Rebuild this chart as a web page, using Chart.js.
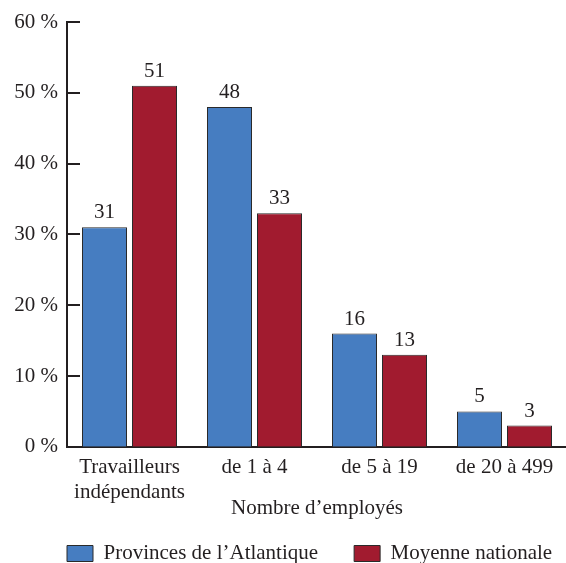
<!DOCTYPE html>
<html>
<head>
<meta charset="utf-8">
<script src="https://cdn.jsdelivr.net/npm/chart.js@4.4.1/dist/chart.umd.min.js"></script>
<style>
  html, body { margin: 0; padding: 0; background: #fff; overflow: hidden; }
  canvas { display: block; }
</style>
</head>
<body>
<canvas id="chart" width="570" height="563"></canvas>
<script>
const categories = [['Travailleurs', 'indépendants'], 'de 1 à 4', 'de 5 à 19', 'de 20 à 499'];
const atlantique = [31, 48, 16, 5];
const nationale = [51, 33, 13, 3];
const yTicks = [0, 10, 20, 30, 40, 50, 60];

const serif = "'Liberation Serif', 'Times New Roman', serif";
const ink = '#231f20';
const fontSize = 21;

// numbers above the bars
const valueLabels = {
  id: 'valueLabels',
  afterDatasetsDraw(chart) {
    const ctx = chart.ctx;
    ctx.save();
    ctx.font = fontSize + 'px ' + serif;
    ctx.fillStyle = ink;
    ctx.textAlign = 'center';
    ctx.textBaseline = 'bottom';
    chart.data.datasets.forEach((ds, i) => {
      chart.getDatasetMeta(i).data.forEach((bar, j) => {
        ctx.fillText(ds.data[j], bar.x, bar.y - 4);
      });
    });
    ctx.restore();
  }
};

// tick marks pointing into the plot
const innerTicks = {
  id: 'innerTicks',
  afterDraw(chart) {
    const ctx = chart.ctx;
    const y = chart.scales.y;
    const left = chart.chartArea.left;
    ctx.save();
    ctx.strokeStyle = ink;
    ctx.lineWidth = 2;
    y.ticks.forEach(t => {
      if (t.value === 0) return;
      const py = Math.round(y.getPixelForValue(t.value));
      ctx.beginPath();
      ctx.moveTo(left - 1, py);
      ctx.lineTo(left + 13, py);
      ctx.stroke();
    });
    ctx.restore();
  }
};

// legend starts under the plot, not at the canvas edge
const legendShift = {
  id: 'legendShift',
  afterLayout(chart) {
    chart.legend.left += 31;
    chart.legend.right += 31;
  }
};

new Chart(document.getElementById('chart'), {
  type: 'bar',
  data: {
    labels: categories,
    datasets: [
      {
        label: 'Provinces de l\u2019Atlantique',
        data: atlantique,
        backgroundColor: '#467dc1',
        borderColor: '#2a2a2a',
        borderWidth: 1
      },
      {
        label: 'Moyenne nationale',
        data: nationale,
        backgroundColor: '#a11b2f',
        borderColor: '#2a2a2a',
        borderWidth: 1
      }
    ]
  },
  options: {
    responsive: false,
    animation: false,
    devicePixelRatio: 1,
    layout: { padding: { top: 22, left: 0, right: 3, bottom: -11 } },
    datasets: { bar: { categoryPercentage: 0.8, barPercentage: 0.9 } },
    plugins: {
      tooltip: { enabled: false },
      legend: {
        position: 'bottom',
        align: 'start',
        labels: {
          color: ink,
          font: { family: serif, size: fontSize },
          boxWidth: 26,
          boxHeight: 16,
          padding: 36,
          useBorderRadius: false
        }
      }
    },
    scales: {
      x: {
        grid: { display: false, drawTicks: false },
        border: { display: true, color: ink, width: 2 },
        ticks: {
          color: ink,
          font: { family: serif, size: fontSize, lineHeight: 1.19 },
          padding: 8,
          maxRotation: 0,
          autoSkip: false
        },
        title: {
          display: true,
          text: 'Nombre d\u2019employés',
          color: ink,
          font: { family: serif, size: fontSize },
          padding: { top: -17, bottom: -14 }
        }
      },
      y: {
        min: 0,
        max: 60,
        afterBuildTicks(scale) {
          scale.ticks = yTicks.map(v => ({ value: v }));
        },
        afterFit(scale) { scale.width = 67; },
        grid: { display: false, drawTicks: false },
        border: { display: true, color: ink, width: 2 },
        ticks: {
          color: ink,
          font: { family: serif, size: fontSize },
          padding: 9,
          callback: v => v + ' %'
        }
      }
    }
  },
  plugins: [valueLabels, innerTicks, legendShift]
});
</script>
</body>
</html>
